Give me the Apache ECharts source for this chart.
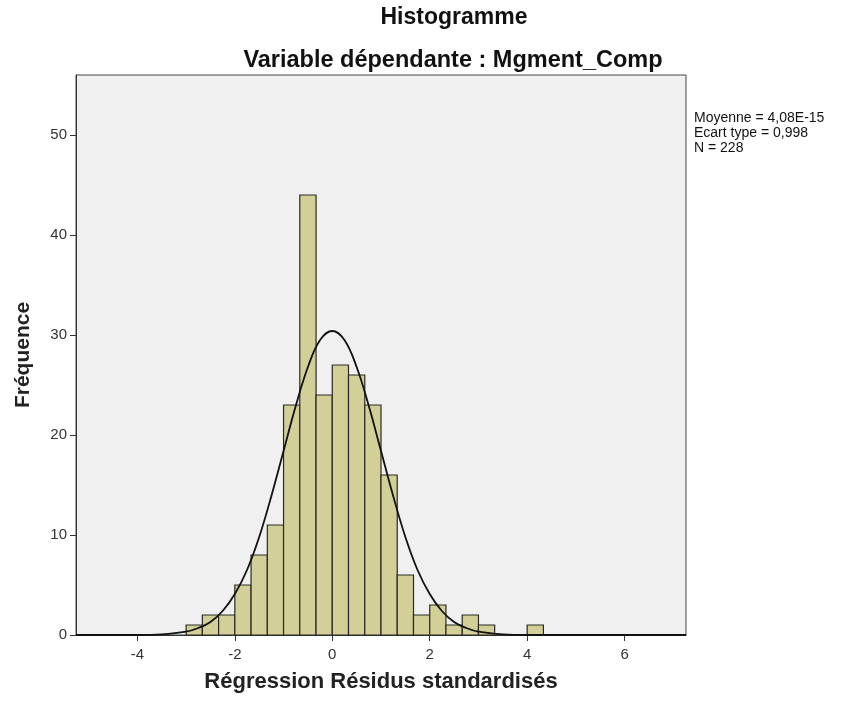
<!DOCTYPE html>
<html><head><meta charset="utf-8">
<script src="https://cdn.jsdelivr.net/npm/echarts@6/dist/echarts.min.js"></script>
<style>html,body{margin:0;padding:0;background:#fff}#c{width:841px;height:706px}</style>
</head><body><div id="c"></div>
<script>
// Histogram bins (lower edge, upper edge) and frequencies
const binLow  = [-3.000,-2.667,-2.333,-2.000,-1.667,-1.333,-1.000,-0.667,-0.333,0.000,0.333,0.667,1.000,1.333,1.667,2.000,2.333,2.667,3.000,4.000];
const binHigh = [-2.667,-2.333,-2.000,-1.667,-1.333,-1.000,-0.667,-0.333,0.000,0.333,0.667,1.000,1.333,1.667,2.000,2.333,2.667,3.000,3.333,4.333];
const counts  = [1,2,2,5,8,11,23,44,24,27,26,23,16,6,2,3,1,2,1,1];
// Normal curve
const curveX = [-5.26,-4,-3.5,-3,-2.75,-2.5,-2.25,-2,-1.75,-1.5,-1.25,-1,-0.75,-0.5,-0.25,0,0.25,0.5,0.75,1,1.25,1.5,1.75,2,2.25,2.5,2.75,3,3.5,4,5,6,7.26];
const curveY = [0,0,0.06,0.33,0.7,1.3,2.4,4.1,6.5,9.8,13.9,18.4,22.9,26.8,29.5,30.4,29.5,26.8,22.9,18.4,13.9,9.8,6.5,4.1,2.4,1.3,0.7,0.33,0.06,0,0,0,0];
const xTicks = [-4,-2,0,2,4,6];
const yTicks = [0,10,20,30,40,50];
const statsLines = ['Moyenne = 4,08E-15','Ecart type = 0,998','N = 228'];

const FONT = '"Liberation Sans", Arial, sans-serif';
const chart = echarts.init(document.getElementById('c'), null, {renderer:'canvas'});
chart.setOption({
  animation:false,
  backgroundColor:'#ffffff',
  grid:{left:76,right:155,top:75,bottom:71,show:true,backgroundColor:'#f0f0f0',borderColor:'#444',borderWidth:1},
  xAxis:{type:'value',min:-5.26,max:7.26,
    name:'Régression Résidus standardisés',nameLocation:'middle',nameGap:36,
    nameTextStyle:{fontFamily:FONT,fontWeight:'bold',fontSize:22,color:'#222'},
    axisLine:{show:true,onZero:false,lineStyle:{color:'#333',width:1}},
    axisTick:{show:true,length:6,lineStyle:{color:'#333'},customValues:xTicks},
    axisLabel:{fontFamily:FONT,fontSize:15,color:'#333',margin:12,customValues:xTicks},
    splitLine:{show:false}},
  yAxis:{type:'value',min:0,max:56,interval:10,
    name:'Fréquence',nameLocation:'middle',nameGap:42,nameRotate:90,
    nameTextStyle:{fontFamily:FONT,fontWeight:'bold',fontSize:21,color:'#222'},
    axisLine:{show:true,onZero:false,lineStyle:{color:'#333',width:1}},
    axisTick:{show:true,length:6,lineStyle:{color:'#333'},customValues:yTicks},
    axisLabel:{fontFamily:FONT,fontSize:15,color:'#333',margin:9,customValues:yTicks},
    splitLine:{show:false}},
  graphic:[
    {type:'text',x:454,y:18,style:{text:'Histogramme',fontFamily:FONT,fontWeight:'bold',fontSize:23,fill:'#111',align:'center',verticalAlign:'middle'}},
    {type:'text',x:453,y:61,style:{text:'Variable dépendante : Mgment_Comp',fontFamily:FONT,fontWeight:'bold',fontSize:23.5,fill:'#111',align:'center',verticalAlign:'middle'}},
    {type:'text',x:694,y:111,style:{text:statsLines.join('\n'),fontFamily:FONT,fontSize:14,lineHeight:15,fill:'#111',align:'left',verticalAlign:'top'}}
  ],
  series:[
    {type:'custom',
     data:binLow.map((l,i)=>[l,binHigh[i],counts[i]]),
     encode:{x:[0,1],y:2},
     renderItem:function(params,api){
       const p0=api.coord([api.value(0),0]);
       const p1=api.coord([api.value(1),api.value(2)]);
       return {type:'rect',shape:{x:p0[0],y:p1[1],width:p1[0]-p0[0],height:p0[1]-p1[1]},
         style:{fill:'#d3cf98',stroke:'#2a2a22',lineWidth:1.2}};
     },z:2},
    {type:'line',data:curveX.map((x,i)=>[x,curveY[i]]),smooth:0.4,showSymbol:false,
     lineStyle:{color:'#111',width:1.8},z:3}
  ]
});
</script></body></html>
